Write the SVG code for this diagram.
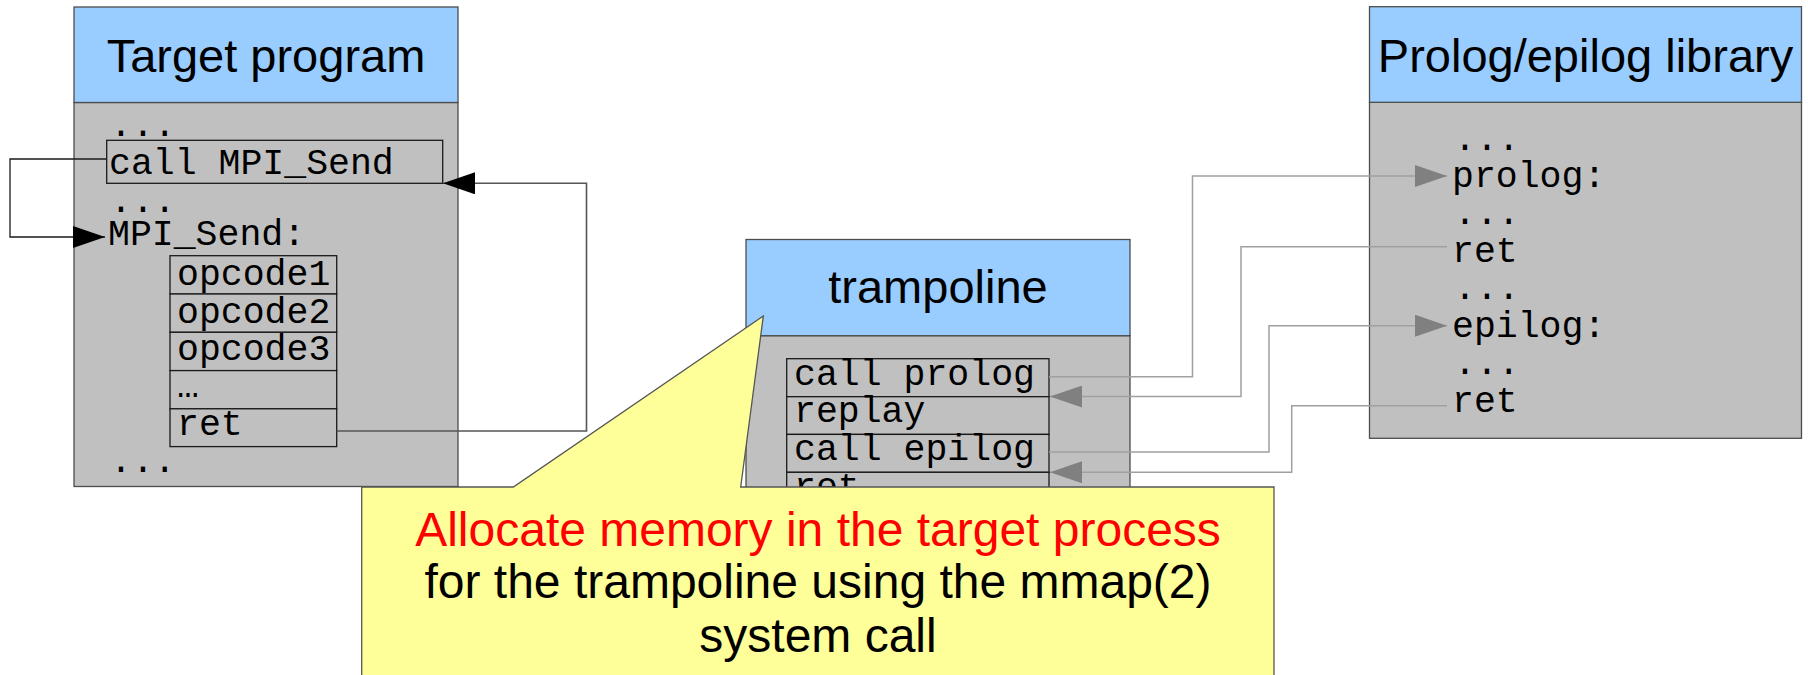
<svg xmlns="http://www.w3.org/2000/svg" width="1808" height="675" viewBox="0 0 1808 675">
  <style>
    .head { fill: #99ccff; stroke: #4d4d4d; stroke-width: 1.3; }
    .body { fill: #c0c0c0; stroke: #4d4d4d; stroke-width: 1.3; }
    .cell { fill: #c0c0c0; stroke: #1a1a1a; stroke-width: 1.3; }
    .title { font-family: "Liberation Sans", Arial, sans-serif; font-size: 47px; fill: #000; text-anchor: middle; }
    .code { font-family: "Liberation Mono", "Courier New", monospace; font-size: 36.5px; fill: #000; }
    .note { font-family: "Liberation Sans", Arial, sans-serif; font-size: 48px; text-anchor: middle; }
    .link-dark { fill: none; stroke: #1a1a1a; stroke-width: 1.3; marker-end: url(#arrow-dark); }
    .link-ret { fill: none; stroke: #555; stroke-width: 1.6; marker-end: url(#arrow-dark); }
    .link-grey { fill: none; stroke: #a0a0a0; stroke-width: 1.5; marker-end: url(#arrow-grey); }
  </style>
  <defs>
    <marker id="arrow-dark" viewBox="0 0 32 22" refX="32" refY="11" markerWidth="32" markerHeight="22" markerUnits="userSpaceOnUse" orient="auto">
      <path d="M0,0 L32,11 L0,22 Z" fill="#000"/>
    </marker>
    <marker id="arrow-grey" viewBox="0 0 32 22" refX="32" refY="11" markerWidth="32" markerHeight="22" markerUnits="userSpaceOnUse" orient="auto">
      <path d="M0,0 L32,11 L0,22 Z" fill="#808080"/>
    </marker>
  </defs>

  <rect width="1808" height="675" fill="#fff"/>

  <!-- Target program -->
  <g id="target-program">
    <rect class="body" x="74" y="102.5" width="384" height="384"/>
    <rect class="head" x="74" y="7" width="384" height="95.5"/>
    <text class="title" x="266" y="72">Target program</text>
    <text class="code" x="110" y="136">...</text>
    <rect class="cell" x="106.7" y="140.3" width="336" height="43"/>
    <text class="code" x="109" y="173.5">call MPI_Send</text>
    <text class="code" x="110" y="212">...</text>
    <text class="code" x="108" y="245">MPI_Send:</text>
    <rect class="cell" x="170" y="255.7" width="166.7" height="38.3"/>
    <rect class="cell" x="170" y="294" width="166.7" height="38.3"/>
    <rect class="cell" x="170" y="332.3" width="166.7" height="38.3"/>
    <rect class="cell" x="170" y="370.6" width="166.7" height="38.2"/>
    <rect class="cell" x="170" y="408.8" width="166.7" height="37.8"/>
    <text class="code" x="177" y="285">opcode1</text>
    <text class="code" x="177" y="322.7">opcode2</text>
    <text class="code" x="177" y="360">opcode3</text>
    <text class="code" x="177" y="397">…</text>
    <text class="code" x="177" y="435">ret</text>
    <text class="code" x="110" y="472">...</text>
  </g>

  <!-- Trampoline -->
  <g id="trampoline">
    <rect class="body" x="746" y="335.7" width="384" height="260"/>
    <rect class="head" x="746" y="239.5" width="384" height="96.2"/>
    <text class="title" x="938" y="303">trampoline</text>
    <rect class="cell" x="786.7" y="358.7" width="262.3" height="38"/>
    <rect class="cell" x="786.7" y="396.7" width="262.3" height="37.7"/>
    <rect class="cell" x="786.7" y="434.4" width="262.3" height="37.9"/>
    <rect class="cell" x="786.7" y="472.3" width="262.3" height="38"/>
    <text class="code" x="794" y="385">call prolog</text>
    <text class="code" x="794" y="421.7">replay</text>
    <text class="code" x="794" y="460">call epilog</text>
    <text class="code" x="794" y="498">ret</text>
  </g>

  <!-- Prolog/epilog library -->
  <g id="prolog-epilog-library">
    <rect class="body" x="1369.5" y="102.3" width="432" height="336"/>
    <rect class="head" x="1369.5" y="6.7" width="432" height="95.6"/>
    <text class="title" x="1585.5" y="71.7">Prolog/epilog library</text>
    <text class="code" x="1454" y="149.5">...</text>
    <text class="code" x="1452" y="186.5">prolog:</text>
    <text class="code" x="1454" y="224">...</text>
    <text class="code" x="1452" y="261.7">ret</text>
    <text class="code" x="1454" y="299">...</text>
    <text class="code" x="1452" y="336.7">epilog:</text>
    <text class="code" x="1454" y="374">...</text>
    <text class="code" x="1452" y="411.7">ret</text>
  </g>

  <!-- Connectors -->
  <g id="connectors">
    <path class="link-dark" d="M106.7,159 H10 V237 H105"/>
    <path class="link-ret" d="M336.7,431 H586.5 V183.3 H443"/>
    <path class="link-grey" d="M1049,376.7 H1192.5 V176 H1447"/>
    <path class="link-grey" d="M1447,246.7 H1241 V396.6 H1050"/>
    <path class="link-grey" d="M1049,452 H1269 V325.7 H1447"/>
    <path class="link-grey" d="M1447,405.7 H1291.7 V472.3 H1050"/>
  </g>

  <!-- Callout note -->
  <g id="callout">
    <path d="M361.7,487 H513.3 L763.3,316 L740.7,487 H1274 V690 H361.7 Z" fill="#ffff99" stroke="#555" stroke-width="1.3"/>
    <text class="note" x="818" y="546" fill="#ff0000">Allocate memory in the target process</text>
    <text class="note" x="818" y="598.3" fill="#000">for the trampoline using the mmap(2)</text>
    <text class="note" x="818" y="651.7" fill="#000">system call</text>
  </g>
</svg>
